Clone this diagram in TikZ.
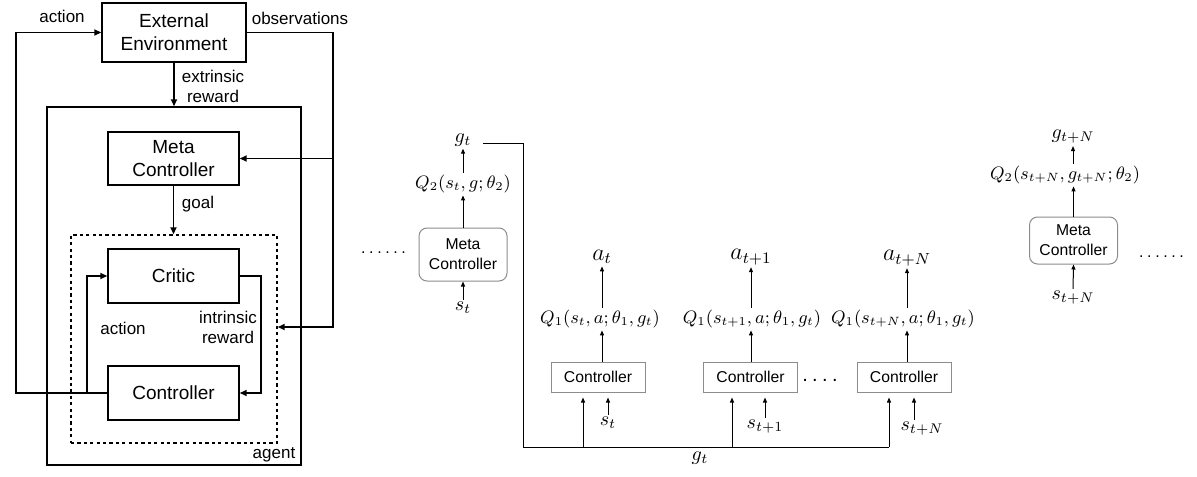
\documentclass[tikz,border=0pt]{standalone}
\usepackage[no-math]{fontspec}
\setmainfont{Liberation Sans}
\usetikzlibrary{arrows.meta,calc}
\begin{document}
\begin{tikzpicture}[x=0.5pt,y=-0.5pt,
  lbox/.style={draw,line width=0.7pt,align=center,font=\fontsize{9.5}{11.5}\selectfont,inner sep=0pt},
  lbl/.style={align=center,font=\fontsize{8.5}{10}\selectfont,inner sep=0pt},
  arr/.style={line width=0.8pt,-{Triangle[length=3.5pt,width=3pt]}},
  ln/.style={line width=0.8pt},
  mbox/.style={draw=black!45,line width=0.5pt,rounded corners=4pt,align=center,font=\fontsize{7.85}{10}\selectfont,inner sep=0pt,minimum width=44pt},
  cbox/.style={draw=black!45,line width=0.5pt,font=\fontsize{7.85}{10}\selectfont,inner sep=0pt,minimum width=47pt,minimum height=15pt},
  ml/.style={inner sep=1pt,font=\fontsize{10}{12}\selectfont},
  qml/.style={inner sep=1pt,font=\fontsize{9}{11}\selectfont},
  aml/.style={inner sep=1pt,font=\fontsize{11.5}{13}\selectfont},
  arr2/.style={line width=0.5pt,-{Triangle[length=2.5pt,width=2pt]}},
  ln2/.style={line width=0.5pt},
  dots/.style={inner sep=0pt,font=\fontsize{8}{10}\selectfont}
]
\useasboundingbox (0,0) rectangle (1197,476);
% ---------------- left part ----------------
\node[lbox,minimum width=72pt,minimum height=29.5pt] (env) at (174,32.5) {External\\Environment};
\node[draw,line width=0.7pt,minimum width=127pt,minimum height=179pt,inner sep=0pt] (agent) at (174,286) {};
\node[lbox,minimum width=65.5pt,minimum height=26.5pt] (meta) at (173.5,158.5) {Meta\\Controller};
\node[draw,line width=0.7pt,dash pattern=on 1.6pt off 1.6pt,minimum width=103pt,minimum height=104pt,inner sep=0pt] (dbox) at (174,339) {};
\node[lbox,minimum width=65.5pt,minimum height=27pt] (critic) at (173.5,276) {Critic};
\node[lbox,minimum width=65.5pt,minimum height=27pt] (ctrl) at (173.5,393) {Controller};

\node[lbl] (lact) at (62,16) {action};
\node[lbl] (lobs) at (300,18) {observations};
\node[lbl] (lext) at (213,86) {extrinsic\\reward};
\node[lbl] (lgoal) at (198,204) {goal};
\node[lbl] (lact2) at (123,328) {action};
\node[lbl] (lint) at (228,327) {intrinsic\\reward};
\node[lbl] (lagent) at (274,455) {agent};

\coordinate (aL) at (16,393);
\coordinate (aJ) at (87,393);
\coordinate (oR) at (333,327);
\draw[arr] (ctrl.west) -- (aL) |- (env.west);
\draw[arr] (aJ) |- (critic.west);
\draw[arr] (critic.east) -- ++(21,0) |- (ctrl.east);
\draw[arr] (env.east) -| (oR) -- (dbox.east |- oR);
\draw[arr] (oR |- meta.east) -- (meta.east);
\draw[arr] (env.south) -- (agent.north);
\draw[arr] (meta.south) -- (meta.south |- dbox.north);

% ---------------- right part ----------------
\node[dots] (d1) at (383.5,253) {.\kern1.8pt.\kern1.8pt.\kern1.8pt.\kern1.8pt.\kern1.8pt.};
\node[ml] (gt) at (463,140) {$g_t$};
\node[qml] (q2a) at (463,184) {$Q_2(s_t,g;\theta_2)$};
\node[mbox,minimum height=26.5pt] (m1) at (463,254.5) {Meta\\Controller};
\node[ml] (st0) at (463,308) {$s_t$};
\draw[arr2] (m1.north) -- (q2a.south);
\draw[arr2] (q2a.north) -- (gt.south);
\draw[arr2] (st0.north) -- (m1.south);

\coordinate (gs) at (483,143);
\coordinate (gc) at (523,447);
\coordinate (g1) at (583,447);
\coordinate (g2) at (732,447);
\coordinate (g3) at (889,447);
\draw[ln2] (gs) -| (gc) -- (g3);
\node[ml] (gtb) at (700,458) {$g_t$};

\node[cbox] (c1) at (598,377) {Controller};
\node[cbox] (c2) at (750.5,377) {Controller};
\node[cbox] (c3) at (904,377) {Controller};
\node[dots,font=\fontsize{10}{12}\selectfont] (d2) at (820,380) {.\kern2.2pt.\kern2.2pt.\kern2.2pt.};

\draw[arr2,shorten >=2.5pt] (g1) -- (g1 |- c1.south);
\draw[arr2,shorten >=2.5pt] (g2) -- (g2 |- c2.south);
\draw[arr2,shorten >=2.5pt] (g3) -- (g3 |- c3.south);

\node[ml] (s1) at (608,423) {$s_t$};
\node[ml] (s2) at (765,427) {$s_{t+1}$};
\node[ml] (s3) at (922,429) {$s_{t+N}$};
\draw[arr2,shorten >=2.5pt] (s1.north) -- (s1.north |- c1.south);
\draw[arr2,shorten >=2.5pt] (s2.north) -- (s2.north |- c2.south);
\draw[arr2,shorten >=2.5pt] ([xshift=-4pt]s3.north) -- ([xshift=-4pt]s3.north |- c3.south);

\node[qml] (q1) at (600,319) {$Q_1(s_t,a;\theta_1,g_t)$};
\node[qml] (q2) at (752,319) {$Q_1(s_{t+1},a;\theta_1,g_t)$};
\node[qml] (q3) at (903,319) {$Q_1(s_{t+N},a;\theta_1,g_t)$};
\node[aml] (a1) at (602,257) {$a_t$};
\node[aml] (a2) at (751,257) {$a_{t+1}$};
\node[aml] (a3) at (907,258) {$a_{t+N}$};
\draw[arr2] (c1.north -| a1) -- (q1.south -| a1);
\draw[arr2] (c2.north -| a2) -- (q2.south -| a2);
\draw[arr2] (c3.north -| a3) -- (q3.south -| a3);
\draw[arr2] (q1.north -| a1) -- (a1.south);
\draw[arr2] (q2.north -| a2) -- (a2.south);
\draw[arr2] (q3.north -| a3) -- (a3.south);

\node[ml] (gN) at (1073,137) {$g_{t+N}$};
\node[qml] (q2b) at (1065,175) {$Q_2(s_{t+N},g_{t+N};\theta_2)$};
\node[mbox,minimum height=23.5pt] (m2) at (1073.5,240.5) {Meta\\Controller};
\node[ml] (sN) at (1073,298) {$s_{t+N}$};
\draw[arr2] (m2.north) -- (q2b.south -| m2.north);
\draw[arr2] (q2b.north -| gN) -- (gN.south);
\draw[arr2] (sN.north) -- (m2.south);
\node[dots] (d3) at (1161.5,257) {.\kern1.8pt.\kern1.8pt.\kern1.8pt.\kern1.8pt.\kern1.8pt.};
\end{tikzpicture}
\end{document}
